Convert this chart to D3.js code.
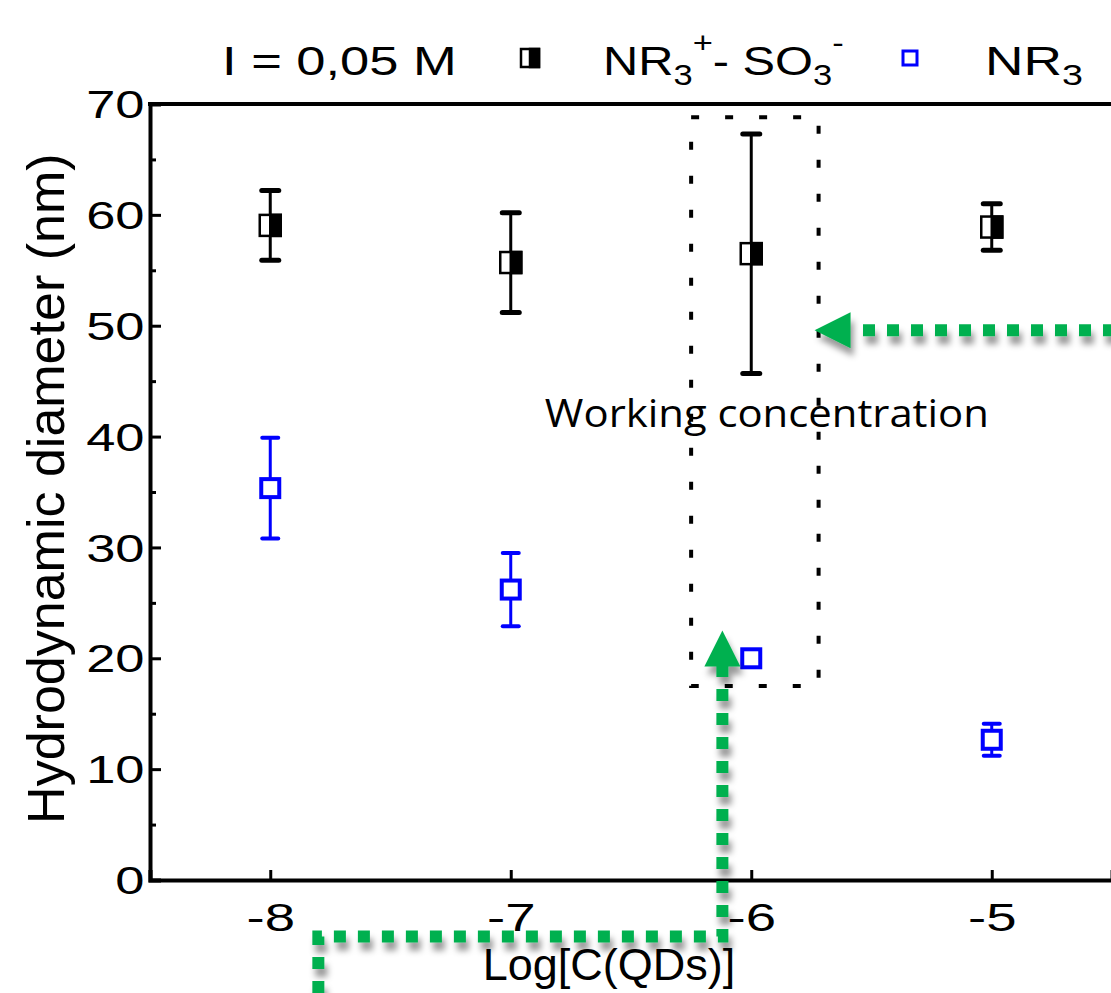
<!DOCTYPE html>
<html>
<head>
<meta charset="utf-8">
<script src="https://cdn.jsdelivr.net/npm/d3@7"></script>
<style>
  body { margin: 0; background: #fff; }
  text { font-family: "Liberation Sans", Arial, sans-serif; fill: #000; }
</style>
</head>
<body>
<div id="chart"></div>
<script>
// data
var xVals = [-8, -7, -6, -5];
var zwMean = [59.05, 55.7, 56.5, 58.9];
var zwErr = [3.15, 4.5, 10.8, 2.1];
var nr3Mean = [35.35, 26.2, 20.0, 12.65];
var nr3Err = [4.55, 3.3, 0.5, 1.45];
var xTicks = [-8, -7, -6, -5];
var yTicks = [0, 10, 20, 30, 40, 50, 60, 70];
var yMinor = [5, 15, 25, 35, 45, 55, 65];

var width = 1111, height = 993;
var blue = '#0000ff', green = '#00b050';

var svg = d3.select('#chart').append('svg')
  .attr('width', width)
  .attr('height', height);

var defs = svg.append('defs');
var f = defs.append('filter').attr('id', 'shadow')
  .attr('x', '-20%').attr('y', '-50%').attr('width', '140%').attr('height', '200%');
f.append('feDropShadow')
  .attr('dx', 3).attr('dy', 8).attr('stdDeviation', 3)
  .attr('flood-color', '#000').attr('flood-opacity', 0.4);

var x = d3.scaleLinear().domain([-8.5, -4.5]).range([150, 1112]);
var y = d3.scaleLinear().domain([0, 70]).range([880, 104]);

//axes
var xAxis = svg.append('g')
  .attr('transform', 'translate(0,' + y(0) + ')')
  .call(d3.axisBottom(x).tickValues(xTicks).tickSize(-10).tickPadding(23)
    .tickFormat(function(d) { return d.toString(); }));
xAxis.selectAll('text').style('font-size', '39px').attr('transform', 'scale(1.4,1)');

var yAxis = svg.append('g')
  .attr('transform', 'translate(' + x(-8.5) + ',0)')
  .call(d3.axisLeft(y).tickValues(yTicks).tickSize(-11).tickPadding(4));
yAxis.selectAll('text').style('font-size', '38px').attr('dy', '0.36em').attr('transform', 'scale(1.38,1)');

svg.append('g')
  .attr('transform', 'translate(' + x(-8.5) + ',0)')
  .call(d3.axisLeft(y).tickValues(yMinor).tickSize(-6).tickFormat(''))
  .select('.domain').remove();

svg.selectAll('.domain').attr('stroke-width', 4);
svg.selectAll('.tick line').attr('stroke-width', 3);

//top frame
svg.append('line')
  .attr('x1', x(-8.5) - 2).attr('x2', width)
  .attr('y1', y(70)).attr('y2', y(70))
  .attr('stroke', '#000').attr('stroke-width', 4);

//axis titles
svg.append('text')
  .attr('x', 609).attr('y', 980)
  .attr('text-anchor', 'middle')
  .style('font-size', '45px')
  .text('Log[C(QDs)]');

svg.append('text')
  .attr('transform', 'translate(64,' + y(35.3) + ') rotate(-90)')
  .attr('text-anchor', 'middle')
  .style('font-size', '52px')
  .text('Hydrodynamic diameter (nm)');

//working concentration box
svg.append('rect')
  .attr('x', x(-6.25)).attr('y', y(68.8))
  .attr('width', x(-5.72) - x(-6.25))
  .attr('height', y(17.5) - y(68.8))
  .attr('fill', 'none')
  .attr('stroke', '#000')
  .attr('stroke-width', 4)
  .attr('stroke-dasharray', '8,26');

svg.append('text')
  .attr('x', x(-5.935)).attr('y', y(40.9))
  .attr('text-anchor', 'middle')
  .attr('textLength', 444)
  .attr('lengthAdjust', 'spacingAndGlyphs')
  .style('font-family', '"Open Sans", sans-serif')
  .style('font-size', '38px')
  .text('Working concentration');

//error bars + markers
var zwData = xVals.map(function(v, i) { return {x: v, m: zwMean[i], e: zwErr[i]}; });
var nrData = xVals.map(function(v, i) { return {x: v, m: nr3Mean[i], e: nr3Err[i]}; });

function drawErr(data, color, lw, capW, capLw) {
  var g = svg.append('g');
  g.selectAll('.err').data(data).enter().append('line')
    .attr('x1', function(d) { return x(d.x); }).attr('x2', function(d) { return x(d.x); })
    .attr('y1', function(d) { return y(d.m + d.e); }).attr('y2', function(d) { return y(d.m - d.e); })
    .attr('stroke', color).attr('stroke-width', lw);
  [1, -1].forEach(function(s) {
    g.selectAll('.cap' + s).data(data).enter().append('line')
      .attr('x1', function(d) { return x(d.x) - capW / 2; }).attr('x2', function(d) { return x(d.x) + capW / 2; })
      .attr('y1', function(d) { return y(d.m + s * d.e); }).attr('y2', function(d) { return y(d.m + s * d.e); })
      .attr('stroke', color).attr('stroke-width', capLw).attr('stroke-linecap', 'round');
  });
}

drawErr(zwData, '#000', 3, 17, 5);
drawErr(nrData, blue, 3, 16, 4);

function halfSquare(g, cx, cy, w, h) {
  g.append('rect').attr('x', cx - w / 2).attr('y', cy - h / 2).attr('width', w).attr('height', h)
    .attr('fill', '#fff').attr('stroke', '#000').attr('stroke-width', 2.5);
  g.append('rect').attr('x', cx).attr('y', cy - h / 2).attr('width', w / 2).attr('height', h)
    .attr('fill', '#000').attr('stroke', '#000').attr('stroke-width', 2.5);
}

zwData.forEach(function(d) { halfSquare(svg.append('g'), x(d.x), y(d.m), 21, 21); });

svg.append('g').selectAll('rect').data(nrData).enter().append('rect')
  .attr('x', function(d) { return x(d.x) - 9; })
  .attr('y', function(d) { return y(d.m) - 9; })
  .attr('width', 18).attr('height', 18)
  .attr('fill', '#fff').attr('stroke', blue).attr('stroke-width', 4);

//green arrows
var arrows = svg.append('g').attr('filter', 'url(#shadow)');
var a1y = y(49.6);
arrows.append('line')
  .attr('x1', width + 4).attr('x2', x(-5.72) + 36)
  .attr('y1', a1y).attr('y2', a1y)
  .attr('stroke', green).attr('stroke-width', 12).attr('stroke-dasharray', '12,12');
arrows.append('path')
  .attr('d', 'M' + (x(-5.72) - 4) + ',' + a1y + 'L' + (x(-5.72) + 32) + ',' + (a1y - 18) + 'L' + (x(-5.72) + 32) + ',' + (a1y + 18) + 'Z')
  .attr('fill', green);

var ax = x(-6.12), tipY = y(22.5);
arrows.append('path')
  .attr('d', 'M' + x(-7.8) + ',' + height + 'L' + x(-7.8) + ',' + y(-5.1) + 'L' + ax + ',' + y(-5.1) + 'L' + ax + ',' + (tipY + 34))
  .attr('fill', 'none')
  .attr('stroke', green).attr('stroke-width', 12).attr('stroke-dasharray', '12,12');
arrows.append('path')
  .attr('d', 'M' + ax + ',' + tipY + 'L' + (ax - 18) + ',' + (tipY + 36) + 'L' + (ax + 18) + ',' + (tipY + 36) + 'Z')
  .attr('fill', green);

//legend
var leg = svg.append('g').style('font-size', '41px');
function legText(px, sx) {
  return leg.append('text').attr('transform', 'translate(' + px + ',75) scale(' + sx + ',1)');
}
legText(222, 1.28).text('I = 0,05 M');
halfSquare(leg.append('g'), 530, 58, 18, 18);
var t = legText(603, 1.19);
t.append('tspan').text('NR');
t.append('tspan').attr('dy', 10).style('font-size', '29px').text('3');
t.append('tspan').attr('dy', -32).style('font-size', '29px').text('+');
t.append('tspan').attr('dy', 22).text('- SO');
t.append('tspan').attr('dy', 10).style('font-size', '29px').text('3');
t.append('tspan').attr('dy', -32).style('font-size', '29px').text('-');
leg.append('rect').attr('x', 903).attr('y', 51).attr('width', 14).attr('height', 14)
  .attr('fill', '#fff').attr('stroke', blue).attr('stroke-width', 3);
var t2 = legText(985, 1.3);
t2.append('tspan').text('NR');
t2.append('tspan').attr('dy', 10).style('font-size', '29px').text('3');
</script>
</body>
</html>
